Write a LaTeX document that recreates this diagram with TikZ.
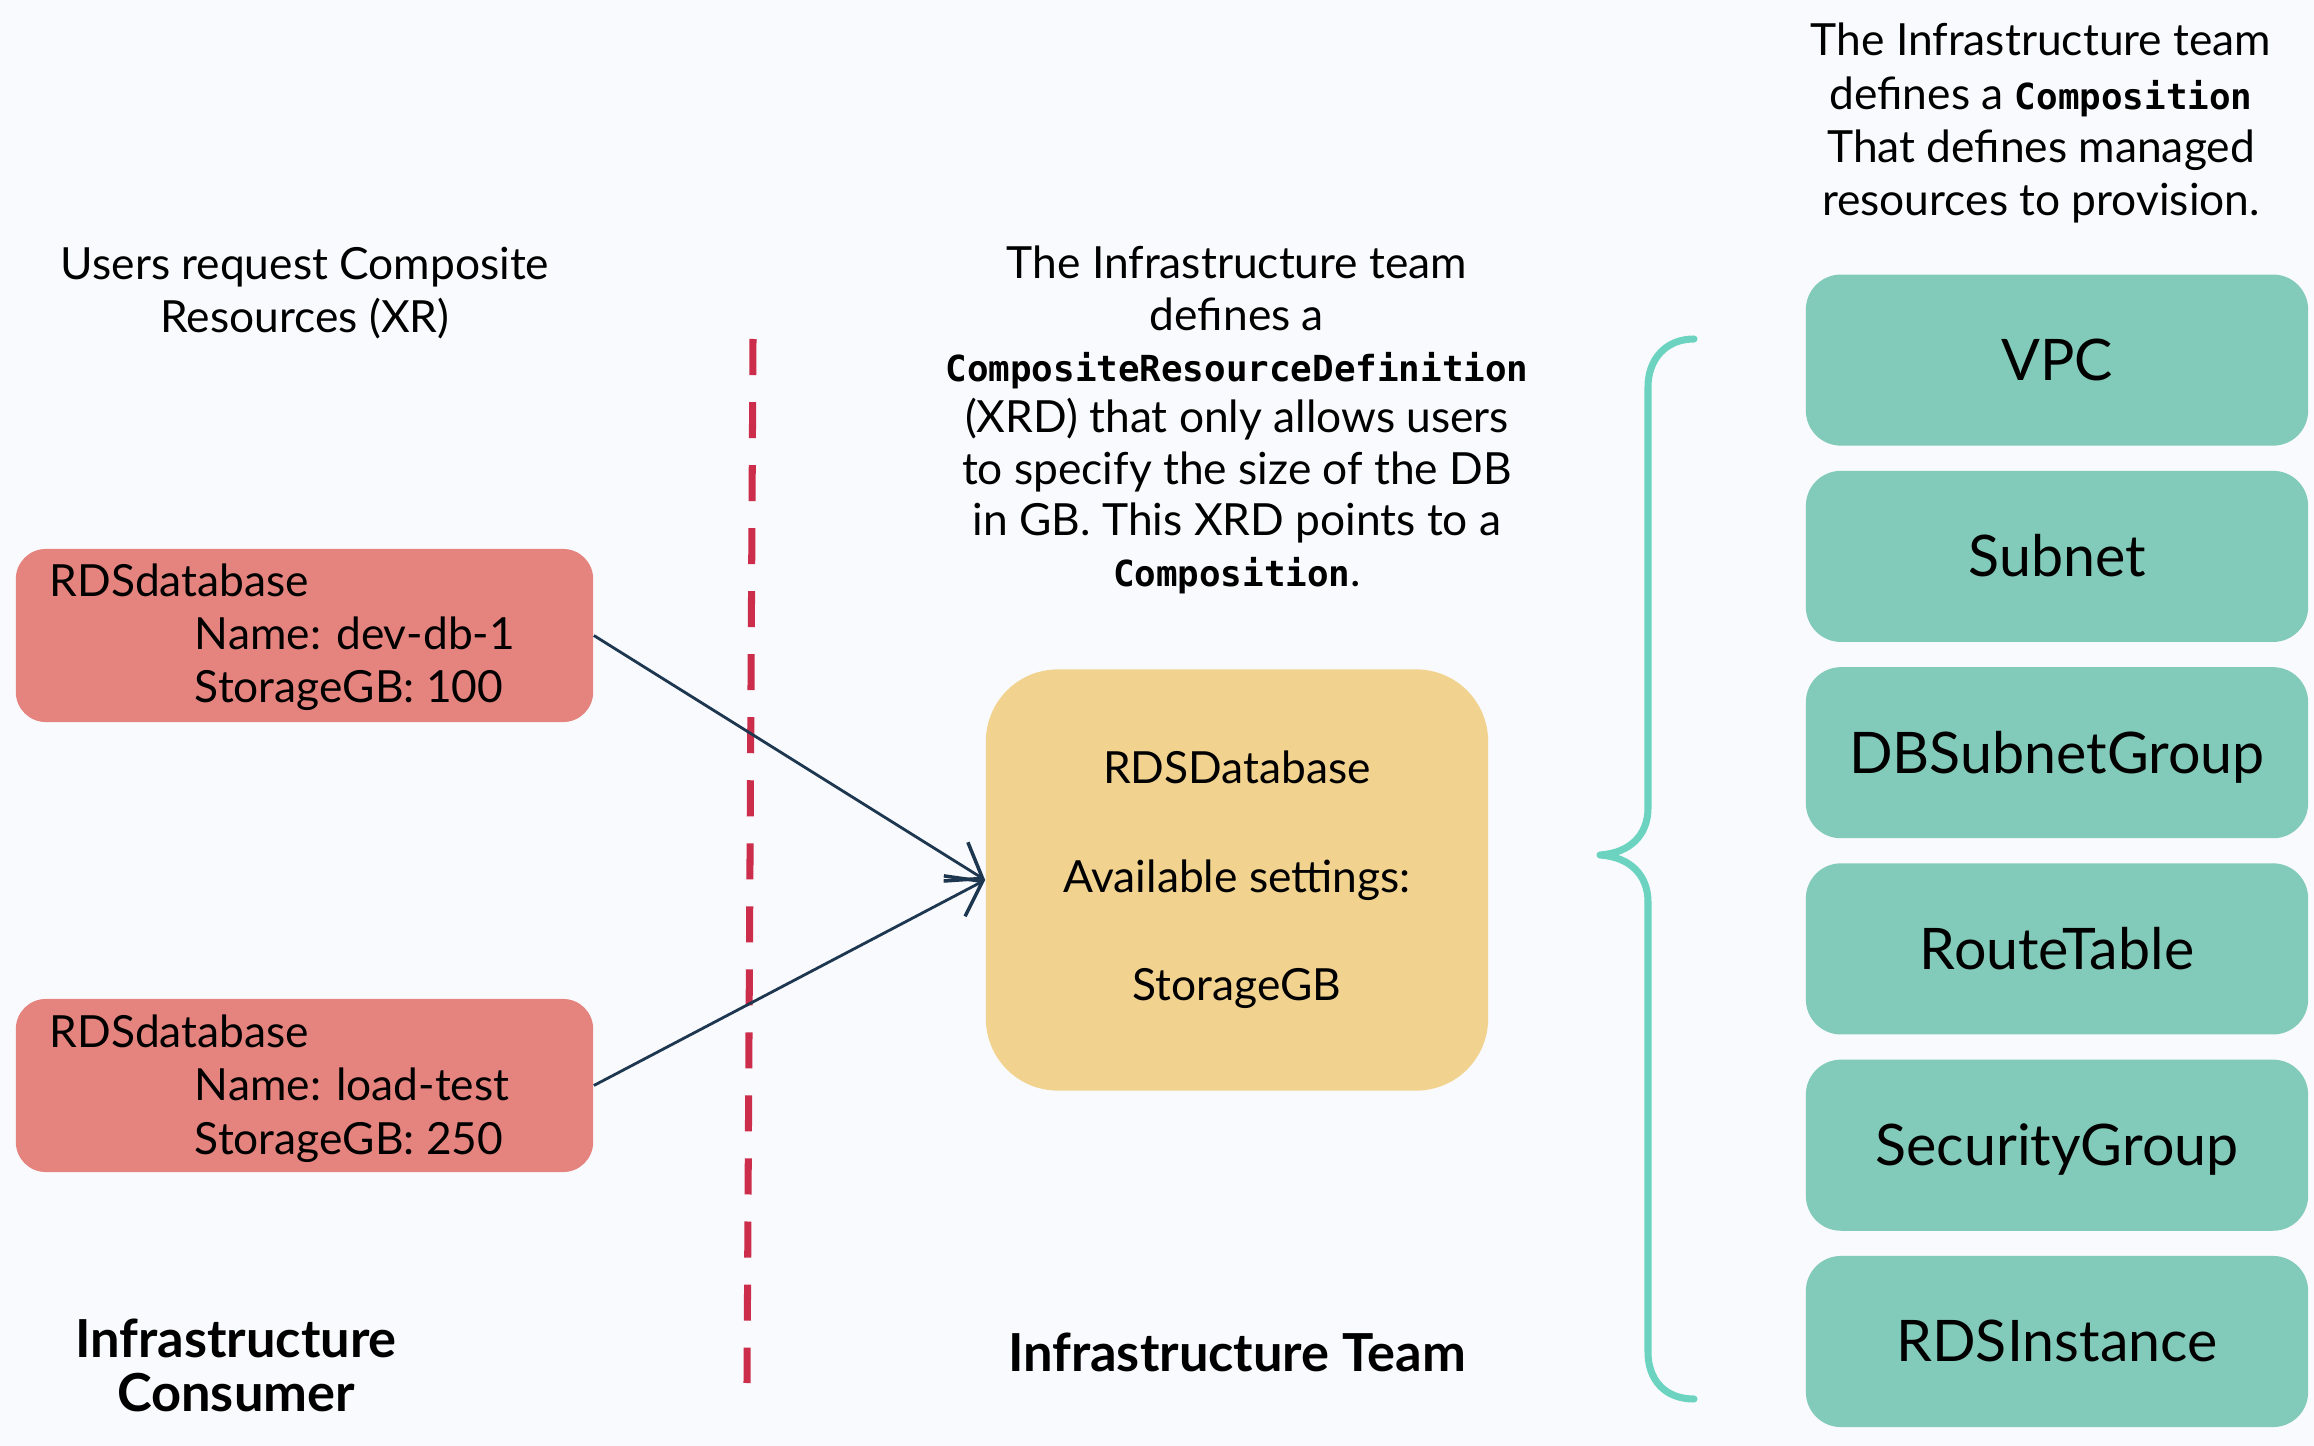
\documentclass[tikz,border=0pt]{standalone}
\usepackage{fontspec}
\setmainfont{Lato}
\newfontfamily\codefont{DejaVu Sans Mono}
\usetikzlibrary{arrows.meta}
\definecolor{bg}{RGB}{249,250,253}
\definecolor{redfill}{RGB}{229,132,126}
\definecolor{yellowfill}{RGB}{241,210,143}
\definecolor{tealfill}{RGB}{130,202,185}
\definecolor{bracecol}{RGB}{107,211,192}
\definecolor{dashcol}{RGB}{204,45,74}
\definecolor{arrowcol}{RGB}{30,55,80}
\newcommand{\code}[1]{{\codefont\bfseries\fontsize{10.2}{14.6}\selectfont #1}}
\tikzset{
  txt/.style={font=\fontsize{12.6}{15.2}\selectfont, inner sep=0pt, align=center, anchor=base},
  midtxt/.style={txt, font=\fontsize{12.6}{14.6}\selectfont},
  boldtxt/.style={txt, font=\fontsize{14.9}{15.2}\selectfont\bfseries},
  redbox/.style={fill=redfill, rounded corners=0.3cm, minimum width=5.77cm, minimum height=1.73cm, inner sep=0pt},
  redtxt/.style={font=\fontsize{12.6}{15.2}\selectfont, inner sep=0pt, align=left, anchor=base west},
  xrdbox/.style={fill=yellowfill, rounded corners=0.72cm, minimum width=5.02cm, minimum height=4.21cm, inner sep=0pt, align=center, font=\fontsize{12.6}{15.2}\selectfont},
  tealbox/.style={fill=tealfill, rounded corners=0.35cm, minimum width=5.02cm, minimum height=1.71cm, inner sep=0pt, font=\fontsize{16.3}{18}\selectfont, text height=11.6pt, text depth=0pt},
  conn/.style={draw=arrowcol, line width=0.8pt, -{Straight Barb[length=9pt,width=13pt,line width=1pt]}},
  divider/.style={draw=dashcol, line width=2pt, dash pattern=on 0.36cm off 0.27cm},
  bracestyle/.style={draw=bracecol, line width=2pt, line cap=round, line join=round}
}
\begin{document}
\begin{tikzpicture}[x=0.01cm, y=-0.01cm]
\fill[bg] (0,0) rectangle (2314,1446);
\useasboundingbox (0,0) rectangle (2314,1446);

% left column
\node[txt] (lefttitle) at (305,333) {Users request Composite\\Resources (XR)};
\node[redbox] (c1) at (304.5,635.5) {};
\node[redtxt] (c1t) at (49,703) {RDSdatabase\\\hspace*{41.3pt}Name: dev-db-1\\\hspace*{41.3pt}StorageGB: 100};
\node[redbox] (c2) at (304.5,1085.5) {};
\node[redtxt] (c2t) at (49,1154) {RDSdatabase\\\hspace*{41.3pt}Name: load-test\\\hspace*{41.3pt}StorageGB: 250};
\node[boldtxt] (consumer) at (236,1411) {Infrastructure\\Consumer};

% divider
\draw[divider] (753,339) -- (747,1383);

% middle column
\node[midtxt] (midtitle) at (1237,587) {The Infrastructure team\\defines a\\\code{CompositeResourceDefinition}\\(XRD) that only allows users\\to specify the size of the DB\\in GB. This XRD points to a\\\code{Composition}.};
\node[xrdbox] (xrd) at (1237,880) {RDSDatabase\\[15.7pt]Available settings:\\[15.7pt]StorageGB};
\node[boldtxt] (team) at (1237,1371) {Infrastructure Team};

\draw[conn] (c1.east) -- (xrd.west);
\draw[conn] (c2.east) -- (xrd.west);

% brace
\draw[bracestyle] (1694,339) .. controls (1665,339) and (1648,360) .. (1648,387)
  -- (1648,808) .. controls (1648,835) and (1630,853) .. (1600,855)
  .. controls (1630,857) and (1648,875) .. (1648,902)
  -- (1648,1352) .. controls (1648,1380) and (1665,1399) .. (1694,1399);

% right column
\node[txt] (righttitle) at (2041,216) {The Infrastructure team\\defines a \code{Composition}\\That defines managed\\resources to provision.};
\node[tealbox] (vpc) at (2057,360.1) {VPC};
\node[tealbox] (subnet) at (2057,556.4) {Subnet};
\node[tealbox] (dbsg) at (2057,752.7) {DBSubnetGroup};
\node[tealbox] (rt) at (2057,948.9) {RouteTable};
\node[tealbox] (sg) at (2057,1145.2) {SecurityGroup};
\node[tealbox] (rds) at (2057,1341.5) {RDSInstance};
\end{tikzpicture}
\end{document}
